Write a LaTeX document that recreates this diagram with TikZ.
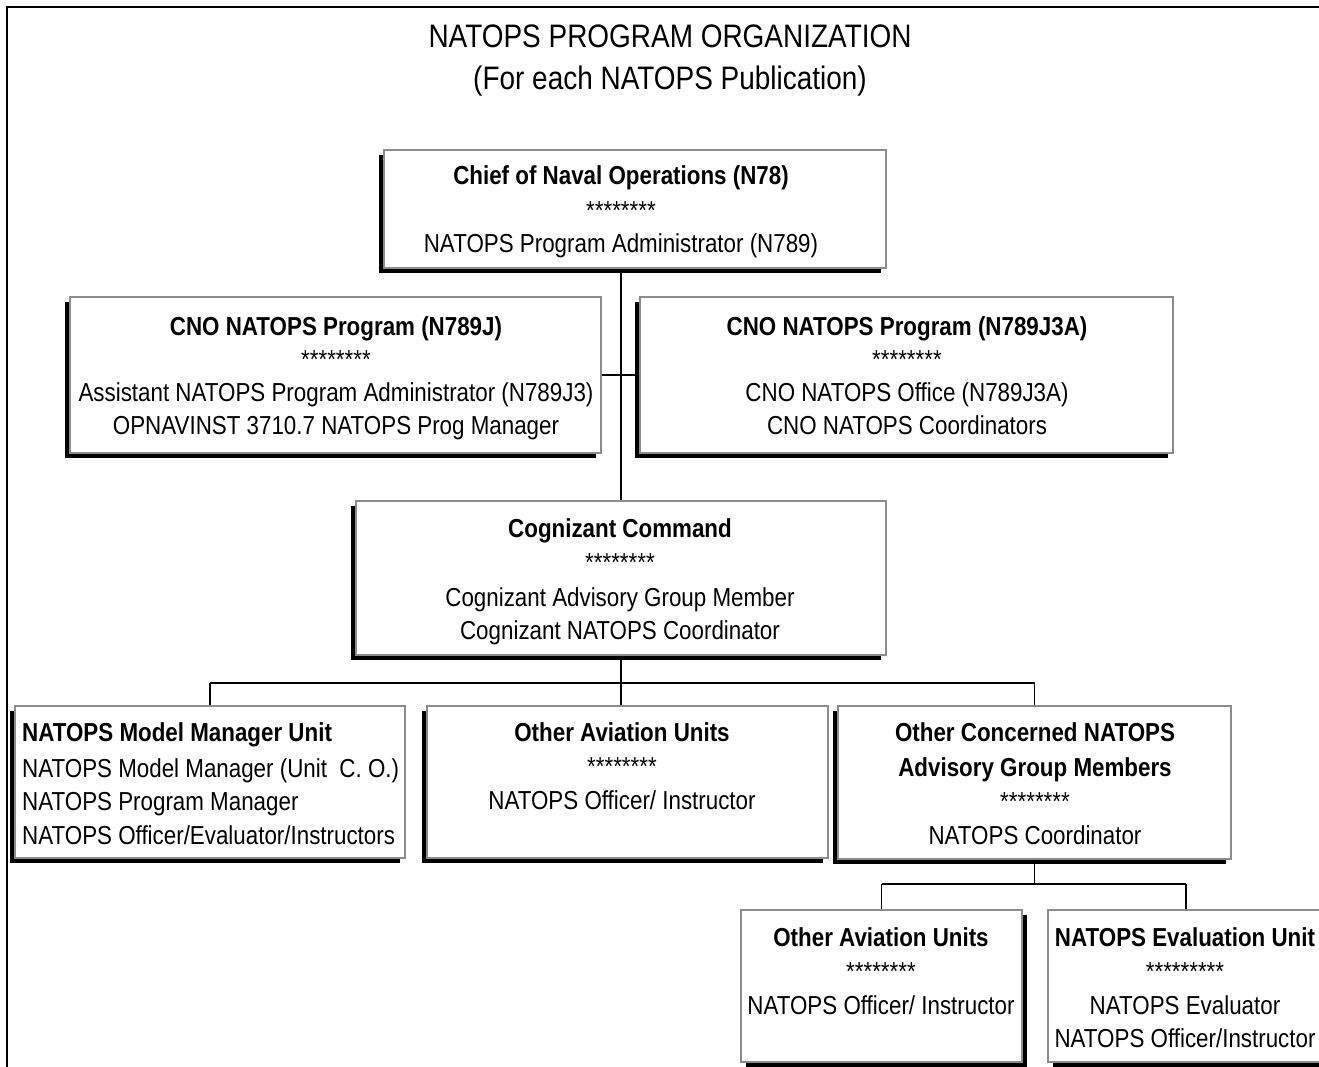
\documentclass[tikz,border=0pt]{standalone}
\usepackage{fontspec}
\setmainfont{Liberation Sans}[FakeStretch=0.86]
\usetikzlibrary{shadows}
\tikzset{
  x=1pt, y=-1pt,
  boxL/.style={draw=black!45, line width=1.3pt, fill=white, inner sep=0pt,
    general shadow={fill=black, shadow xshift=-5pt, shadow yshift=-5pt}},
  boxR/.style={draw=black!45, line width=1.3pt, fill=white, inner sep=0pt,
    general shadow={fill=black, shadow xshift=5pt, shadow yshift=-5pt}},
  txt/.style={font=\fontsize{26}{30}\selectfont, inner sep=0pt, anchor=base},
  btxt/.style={txt, font=\fontsize{26}{30}\selectfont\bfseries},
  ttl/.style={font=\fontsize{32.5}{38}\selectfont, inner sep=0pt, anchor=base},
  conn/.style={draw=black, line width=1.4pt},
  frame/.style={draw=black, line width=1.6pt}
}
\begin{document}
\begin{tikzpicture}
\useasboundingbox (0,0) rectangle (1319,1067);
\draw[frame] (7,1075) -- (7,7) -- (1330,7);

\node[ttl] (t1) at (670,48) {NATOPS PROGRAM ORGANIZATION};
\node[ttl] (t2) at (670,90) {(For each NATOPS Publication)};

% boxes
\node[boxL, minimum width=502pt, minimum height=118pt] (cno) at (635,209) {};
\node[boxL, minimum width=531pt, minimum height=156pt] (j) at (335.5,375) {};
\node[boxL, minimum width=533pt, minimum height=156pt] (j3a) at (906.5,375) {};
\node[boxL, minimum width=530pt, minimum height=154pt] (cog) at (621,578) {};
\node[boxL, minimum width=390pt, minimum height=152pt] (mm) at (210,782) {};
\node[boxL, minimum width=401pt, minimum height=152pt] (oau) at (627.5,782) {};
\node[boxL, minimum width=393pt, minimum height=153pt] (ocn) at (1034.5,782.5) {};
\node[boxR, minimum width=281pt, minimum height=152pt] (oau2) at (881.5,986) {};
\node[boxR, minimum width=276pt, minimum height=152pt] (ev) at (1186,986) {};

% connectors
\coordinate (bus1) at (0,683);
\coordinate (bus2) at (0,884);
\draw[conn] (cog.north |- cno.south) -- (cog.north);
\draw[conn] (j.east) -- (j3a.west);
\draw[conn] (cog.south) -- (cog.south |- bus1);
\draw[conn] (mm.north |- bus1) -- (ocn.north |- bus1);
\draw[conn] (mm.north |- bus1) -- (mm.north);
\draw[conn] (cog.south |- bus1) -- (cog.south |- oau.north);
\draw[conn] (ocn.north |- bus1) -- (ocn.north);
\draw[conn] (ocn.south) -- (ocn.south |- bus2);
\draw[conn] (oau2.north |- bus2) -- (ev.north |- bus2);
\draw[conn] (oau2.north |- bus2) -- (oau2.north);
\draw[conn] (ev.north |- bus2) -- (ev.north);

% texts
\node[btxt] (cno1) at (621,185) {Chief of Naval Operations (N78)};
\node[txt] (cno2) at (621,220) {********};
\node[txt] (cno3) at (621,253) {NATOPS Program Administrator (N789)};

\node[btxt] (j1) at (336,335) {CNO NATOPS Program (N789J)};
\node[txt] (j2) at (336,368) {********};
\node[txt] (j3) at (336,401) {Assistant NATOPS Program Administrator (N789J3)};
\node[txt] (j4) at (336,434) {OPNAVINST 3710.7 NATOPS Prog Manager};

\node[btxt] (k1) at (907,335) {CNO NATOPS Program (N789J3A)};
\node[txt] (k2) at (907,368) {********};
\node[txt] (k3) at (907,401) {CNO NATOPS Office (N789J3A)};
\node[txt] (k4) at (907,434) {CNO NATOPS Coordinators};

\node[btxt] (c1) at (620,537) {Cognizant Command};
\node[txt] (c2) at (620,571) {********};
\node[txt] (c3) at (620,606) {Cognizant Advisory Group Member};
\node[txt] (c4) at (620,639) {Cognizant NATOPS Coordinator};

\node[btxt, anchor=base west] (m1) at (22,741) {NATOPS Model Manager Unit};
\node[txt, anchor=base west] (m2) at (22,777) {NATOPS Model Manager (Unit\ \ C. O.)};
\node[txt, anchor=base west] (m3) at (22,810) {NATOPS Program Manager};
\node[txt, anchor=base west] (m4) at (22,844) {NATOPS Officer/Evaluator/Instructors};

\node[btxt] (o1) at (622,741) {Other Aviation Units};
\node[txt] (o2) at (622,775) {********};
\node[txt] (o3) at (622,809) {NATOPS Officer/ Instructor};

\node[btxt] (p1) at (1035,741) {Other Concerned NATOPS};
\node[btxt] (p2) at (1035,776) {Advisory Group Members};
\node[txt] (p3) at (1035,810) {********};
\node[txt] (p4) at (1035,844) {NATOPS Coordinator};

\node[btxt] (q1) at (881,946) {Other Aviation Units};
\node[txt] (q2) at (881,980) {********};
\node[txt] (q3) at (881,1014) {NATOPS Officer/ Instructor};

\node[btxt] (e1) at (1185,946) {NATOPS Evaluation Unit};
\node[txt] (e2) at (1185,980) {*********};
\node[txt] (e3) at (1185,1014) {NATOPS Evaluator};
\node[txt] (e4) at (1185,1047) {NATOPS Officer/Instructor};
\end{tikzpicture}
\end{document}
